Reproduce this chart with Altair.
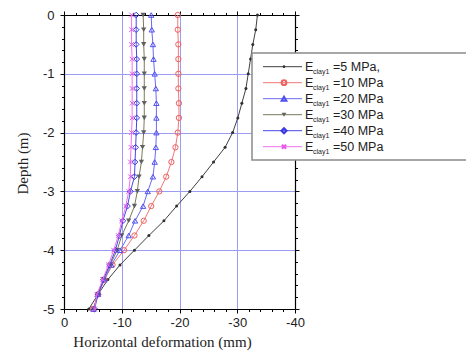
import altair as alt
import pandas as pd

# ---------------- data ----------------
depth = [0, -0.25, -0.5, -0.75, -1.0, -1.25, -1.5, -1.75, -2.0, -2.25, -2.5,
         -2.75, -3.0, -3.25, -3.5, -3.75, -4.0, -4.25, -4.5, -4.75, -5.0]
e5 = [-33.5, -33.2, -32.7, -32.3, -31.9, -31.5, -30.8, -30.1, -29.2, -27.9, -25.9,
      -23.9, -21.8, -19.5, -17.3, -14.7, -12.2, -9.7, -7.6, -5.9, -4.3]
e10 = [-19.7, -19.7, -19.8, -19.8, -19.8, -19.8, -19.9, -19.9, -19.7, -19.3, -18.6,
       -17.7, -16.5, -15.1, -13.8, -12.2, -10.4, -8.4, -7.0, -5.9, -5.0]
e20 = [-15.1, -15.2, -15.4, -15.5, -15.7, -15.9, -16.0, -16.0, -16.0, -15.9, -15.7,
       -15.4, -14.5, -13.7, -12.3, -11.2, -9.7, -8.2, -7.0, -5.9, -5.1]
e30 = [-13.7, -13.8, -13.8, -13.9, -13.9, -13.9, -13.9, -13.9, -13.8, -13.6, -13.4,
       -13.0, -12.7, -12.2, -11.2, -10.0, -9.2, -8.0, -6.8, -5.9, -5.1]
e40 = [-12.5, -12.5, -12.5, -12.6, -12.6, -12.6, -12.6, -12.6, -12.5, -12.4, -12.3,
       -12.2, -11.5, -11.0, -10.2, -9.6, -8.9, -7.9, -6.8, -5.9, -5.3]
e50 = [-11.7, -11.7, -11.7, -11.8, -11.8, -11.8, -11.8, -11.8, -11.7, -11.6, -11.5,
       -11.5, -11.2, -10.7, -10.0, -9.4, -8.6, -7.7, -6.7, -5.7, -5.3]

series_names = ["5 MPa", "10 MPa", "20 MPa", "30 MPa", "40 MPa", "50 MPa"]
legend_labels = ["=5 MPa,", "=10 MPa", "=20 MPa", "=30 MPa", "=40 MPa", "=50 MPa"]
series_values = [e5, e10, e20, e30, e40, e50]

x_ticks = list(range(0, -41, -2))
y_ticks = [round(-0.2 * i, 1) for i in range(26)]
x_grid = [-10, -20, -30]
y_grid = [-1, -2, -3, -4]

# ---------------- styles ----------------
line_colors = ["#404040", "#f07878", "#6a6af5", "#7a7a5a", "#4848e8", "#f070f0"]
mark_colors = ["#303030", "#f06060", "#5050f0", "#606060", "#3838e0", "#e858e8"]
shapes = ["circle", "circle", "triangle-up", "triangle-down", "diamond",
          "M-1,-1L1,1M-1,1L1,-1"]
filled = [True, False, False, True, False, False]
sizes = [9, 28, 28, 28, 32, 22]

rows = []
for name, vals in zip(series_names, series_values):
    for i, (d, v) in enumerate(zip(depth, vals)):
        rows.append({"series": name, "idx": i, "depth": d, "def": v})
df = pd.DataFrame(rows)

xscale = alt.Scale(domain=[-40, 0], reverse=True, nice=False, zero=False)
yscale = alt.Scale(domain=[-5, 0], nice=False, zero=False)

LABEL_FONT = "Liberation Sans"
TITLE_FONT = "Liberation Serif"
GRID = "#9c9cf2"

x_major = "datum.value % 10 === 0"
y_major = "abs(datum.value - round(datum.value)) < 0.001"
x_tick_size = {"condition": {"test": x_major, "value": 4}, "value": 2.5}
y_tick_size = {"condition": {"test": y_major, "value": 4}, "value": 2.5}

x_bottom = alt.Axis(
    orient="bottom", values=x_ticks, grid=False,
    labelExpr=f"{x_major} ? '' + datum.value : ''",
    labelOverlap=False, labelFlush=False,
    labelFont=LABEL_FONT, labelFontSize=13, labelColor="#222", labelPadding=3,
    tickSize=x_tick_size, tickColor="black", domainColor="black", domainWidth=1.2,
    title="Horizontal deformation (mm)", titleFont=TITLE_FONT, titleFontSize=15,
    titleFontWeight="normal", titleColor="#222",
    titleX=98, titleY=37, titleAlign="center", titleBaseline="alphabetic",
)
y_left = alt.Axis(
    orient="left", values=y_ticks, grid=False,
    labelExpr=f"{y_major} ? '' + datum.value : ''",
    labelOverlap=False, labelFlush=False,
    labelFont=LABEL_FONT, labelFontSize=13, labelColor="#222", labelPadding=6,
    tickSize=y_tick_size, tickColor="black", domainColor="black", domainWidth=1.2,
    title="Depth (m)", titleFont=TITLE_FONT, titleFontSize=15,
    titleFontWeight="normal", titleColor="#222",
    titleX=-42, titleY=148, titleAngle=-90, titleAlign="center", titleBaseline="middle",
)
x_top = alt.Axis(orient="top", values=x_ticks, labels=False, title=None, grid=False,
                 tickSize=x_tick_size, tickColor="black", domainColor="black",
                 domainWidth=1.2)
y_right = alt.Axis(orient="right", values=y_ticks, labels=False, title=None, grid=False,
                   tickSize=y_tick_size, tickColor="black", domainColor="black",
                   domainWidth=1.2)
x_gridaxis = alt.Axis(orient="bottom", values=x_grid, labels=False, ticks=False,
                      domain=False, title=None, grid=True, gridColor=GRID, gridWidth=1)
y_gridaxis = alt.Axis(orient="left", values=y_grid, labels=False, ticks=False,
                      domain=False, title=None, grid=True, gridColor=GRID, gridWidth=1)


def axis_layer(xa, ya):
    return alt.Chart(df).mark_point(opacity=0).encode(
        x=alt.X("def:Q", scale=xscale, axis=xa),
        y=alt.Y("depth:Q", scale=yscale, axis=ya),
    )


layers = [axis_layer(x_gridaxis, y_gridaxis),
          axis_layer(x_bottom, y_left),
          axis_layer(x_top, y_right)]

for k, name in enumerate(series_names):
    base = alt.Chart(df).transform_filter(alt.datum.series == name)
    line = base.mark_line(color=line_colors[k], strokeWidth=1).encode(
        x=alt.X("def:Q", scale=xscale, axis=None),
        y=alt.Y("depth:Q", scale=yscale, axis=None),
        order="idx:Q",
    )
    pts = base.mark_point(shape=shapes[k], filled=filled[k], size=sizes[k],
                          color=mark_colors[k], strokeWidth=1, opacity=1).encode(
        x=alt.X("def:Q", scale=xscale, axis=None),
        y=alt.Y("depth:Q", scale=yscale, axis=None),
    )
    layers += [line, pts]

# ---------------- legend (drawn by hand for the subscript) ----------------
one = pd.DataFrame({"a": [0]})
layers.append(
    alt.Chart(one).mark_rect(fill="white", stroke="#8a8a8a", strokeWidth=1.5).encode(
        x=alt.value(188), x2=alt.value(420), y=alt.value(38), y2=alt.value(145)))
for k, lab in enumerate(legend_labels):
    yc = 51.7 + 16 * k
    layers.append(
        alt.Chart(one).mark_rule(color=line_colors[k], strokeWidth=1).encode(
            x=alt.value(199), x2=alt.value(238), y=alt.value(yc)))
    layers.append(
        alt.Chart(one).mark_point(shape=shapes[k], filled=filled[k], size=sizes[k] * 0.8,
                                  color=mark_colors[k], opacity=1).encode(
            x=alt.value(220), y=alt.value(yc)))
    tdf = pd.DataFrame({"e": ["E"], "s": ["clay1"], "t": [lab]})
    layers.append(
        alt.Chart(tdf).mark_text(align="left", baseline="middle", font=LABEL_FONT,
                                 fontSize=12.5, color="#222").encode(
            x=alt.value(241), y=alt.value(yc), text="e:N"))
    layers.append(
        alt.Chart(tdf).mark_text(align="left", baseline="middle", font=LABEL_FONT,
                                 fontSize=7, color="#222").encode(
            x=alt.value(249), y=alt.value(yc + 5), text="s:N"))
    layers.append(
        alt.Chart(tdf).mark_text(align="left", baseline="middle", font=LABEL_FONT,
                                 fontSize=12.5, color="#222").encode(
            x=alt.value(269), y=alt.value(yc), text="t:N"))

chart = alt.layer(*layers).resolve_scale(
    x="independent", y="independent"
).properties(
    width=231, height=294,
    autosize=alt.AutoSizeParams(type="none"),
    padding={"left": 64, "top": 15, "right": 171, "bottom": 43},
    background="white",
).configure_view(stroke=None)

chart.save("out.html", embed_options={"renderer": "svg", "actions": False})
